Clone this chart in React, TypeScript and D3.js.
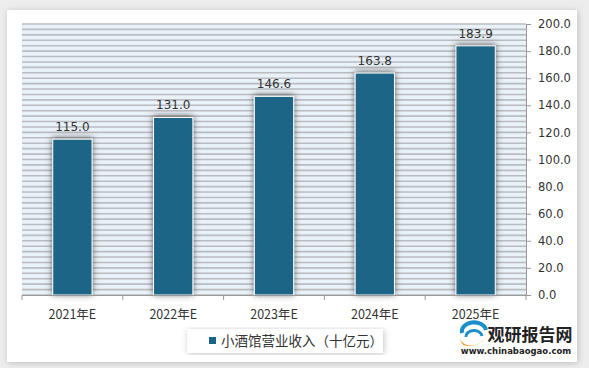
import React, { useEffect } from "react";
import * as d3 from "d3";

const years = ["2021年E", "2022年E", "2023年E", "2024年E", "2025年E"];
const revenue = [115.0, 131.0, 146.6, 163.8, 183.9];
const yTicks = [0, 20, 40, 60, 80, 100, 120, 140, 160, 180, 200];
const seriesName = "小酒馆营业收入（十亿元）";

export default function App() {
  useEffect(() => {
    draw();
  }, []);

  let draw = () => {
    d3.select("#chart").select("svg").remove();

    let W = 589;
    let H = 368;
    let plot = { left: 22, right: 526, top: 24, bottom: 295 };
    let numFont = "'DejaVu Sans', Verdana, sans-serif";
    let cjkFont = "'Noto Sans CJK SC', sans-serif";

    let svg = d3
      .select("#chart")
      .append("svg")
      .attr("width", W)
      .attr("height", H)
      .style("display", "block");

    let defs = svg.append("defs");

    let cardShadow = defs
      .append("filter")
      .attr("id", "cardShadow")
      .attr("x", "-5%")
      .attr("y", "-5%")
      .attr("width", "110%")
      .attr("height", "110%");
    cardShadow
      .append("feDropShadow")
      .attr("dx", 1)
      .attr("dy", 1)
      .attr("stdDeviation", 3)
      .attr("flood-color", "#999")
      .attr("flood-opacity", 0.6);

    let barShadow = defs
      .append("filter")
      .attr("id", "barShadow")
      .attr("x", "-40%")
      .attr("y", "-10%")
      .attr("width", "180%")
      .attr("height", "120%");
    barShadow
      .append("feDropShadow")
      .attr("dx", 0)
      .attr("dy", -1)
      .attr("stdDeviation", 3)
      .attr("flood-color", "#444")
      .attr("flood-opacity", 0.85);

    // page background + card
    svg.append("rect").attr("width", W).attr("height", H).attr("fill", "#ededed");
    svg
      .append("rect")
      .attr("x", 7)
      .attr("y", 10)
      .attr("width", 570)
      .attr("height", 352)
      .attr("fill", "#fff")
      .attr("filter", "url(#cardShadow)");

    let xScale = d3
      .scaleBand()
      .domain(years)
      .range([plot.left, plot.right])
      .paddingInner(0.61)
      .paddingOuter(0.305);

    let yScale = d3.scaleLinear().domain([0, 200]).range([plot.bottom, plot.top]);

    // plot background with stripes
    svg
      .append("rect")
      .attr("x", plot.left)
      .attr("y", plot.top)
      .attr("width", plot.right - plot.left)
      .attr("height", plot.bottom - plot.top)
      .attr("fill", "#eaf2f9");

    svg
      .append("g")
      .selectAll("line")
      .data(d3.range(0, 201, 4))
      .enter()
      .append("line")
      .attr("x1", plot.left)
      .attr("x2", plot.right)
      .attr("y1", (d) => yScale(d))
      .attr("y2", (d) => yScale(d))
      .attr("stroke", "#b9bcc0")
      .attr("stroke-width", 1.6);

    // bars
    svg
      .append("g")
      .selectAll("rect")
      .data(revenue)
      .enter()
      .append("rect")
      .attr("x", (d, i) => xScale(years[i]))
      .attr("y", (d) => yScale(d))
      .attr("width", xScale.bandwidth())
      .attr("height", (d) => plot.bottom - yScale(d))
      .attr("fill", "#1b6586")
      .attr("stroke", "#fff")
      .attr("stroke-width", 1)
      .attr("filter", "url(#barShadow)");

    // value labels
    svg
      .append("g")
      .selectAll("text")
      .data(revenue)
      .enter()
      .append("text")
      .attr("x", (d, i) => xScale(years[i]) + xScale.bandwidth() / 2)
      .attr("y", (d) => yScale(d) - 8)
      .attr("text-anchor", "middle")
      .attr("font-family", numFont)
      .attr("font-size", 12)
      .attr("fill", "#333")
      .text((d) => d.toFixed(1));

    // x axis
    let xAxis = svg
      .append("g")
      .attr("transform", `translate(0, ${plot.bottom})`)
      .call(d3.axisBottom(xScale).tickSize(0).tickSizeOuter(0));
    xAxis.select(".domain").attr("stroke", "#999");
    xAxis
      .selectAll("text")
      .attr("font-family", cjkFont)
      .attr("font-size", 12.5)
      .attr("fill", "#333")
      .attr("dy", "1.7em");
    let boundaries = d3.range(years.length + 1).map((i) => plot.left + (i * (plot.right - plot.left)) / years.length);
    xAxis
      .selectAll(".sep")
      .data(boundaries)
      .enter()
      .append("line")
      .attr("x1", (d) => d)
      .attr("x2", (d) => d)
      .attr("y1", 0)
      .attr("y2", 5)
      .attr("stroke", "#999");

    // y axis on the right
    let yAxis = svg
      .append("g")
      .attr("transform", `translate(${plot.right}, 0)`)
      .call(
        d3
          .axisRight(yScale)
          .tickValues(yTicks)
          .tickSize(5)
          .tickSizeOuter(0)
          .tickFormat((d) => Number(d).toFixed(1))
      );
    yAxis.selectAll("line").attr("stroke", "#999");
    yAxis.select(".domain").attr("stroke", "#999");
    yAxis
      .selectAll("text")
      .attr("font-family", numFont)
      .attr("font-size", 11.5)
      .attr("fill", "#333")
      .attr("x", 12);

    // legend
    let legend = svg.append("g");
    legend
      .append("rect")
      .attr("x", 187)
      .attr("y", 329)
      .attr("width", 196)
      .attr("height", 24)
      .attr("fill", "#fff")
      .attr("filter", "url(#cardShadow)");
    legend
      .append("rect")
      .attr("x", 209)
      .attr("y", 337)
      .attr("width", 7)
      .attr("height", 7)
      .attr("fill", "#1b6586");
    legend
      .append("text")
      .attr("x", 221)
      .attr("y", 345.5)
      .attr("font-family", cjkFont)
      .attr("font-size", 13.5)
      .attr("fill", "#333")
      .text(seriesName);

    // watermark logo
    let logo = svg.append("g");
    logo
      .append("path")
      .attr("d", "M462,333 A12,9 0 0 1 486,330")
      .attr("fill", "none")
      .attr("stroke", "#1a8fc9")
      .attr("stroke-width", 4);
    logo
      .append("path")
      .attr("d", "M466,337 A8,6 0 0 1 482,336")
      .attr("fill", "none")
      .attr("stroke", "#1a8fc9")
      .attr("stroke-width", 3);
    logo
      .append("path")
      .attr("d", "M459,338 Q466,350 480,343 L486,338 Q476,349 463,345 Z")
      .attr("fill", "#f39a1e");
    logo
      .append("text")
      .attr("x", 530)
      .attr("y", 341)
      .attr("text-anchor", "middle")
      .attr("font-family", cjkFont)
      .attr("font-weight", "bold")
      .attr("font-size", 17)
      .attr("fill", "#222")
      .text("观研报告网");
    logo
      .append("text")
      .attr("x", 516)
      .attr("y", 354)
      .attr("text-anchor", "middle")
      .attr("font-family", numFont)
      .attr("font-weight", "bold")
      .attr("font-size", 8.5)
      .attr("fill", "#222")
      .text("www.chinabaogao.com");
  };

  return <div id="chart" style={{ position: "fixed", left: 0, top: 0 }}></div>;
}
